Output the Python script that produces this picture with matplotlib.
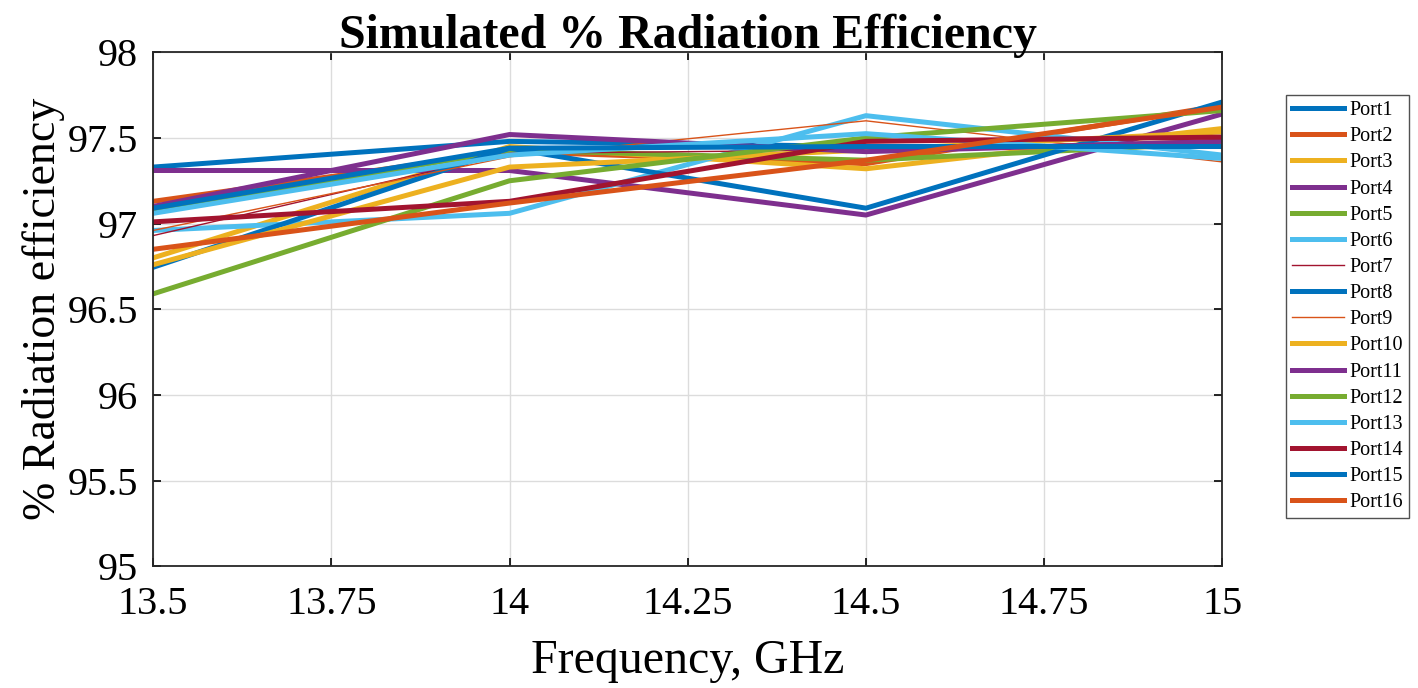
import numpy as np
import matplotlib
matplotlib.use("Agg")
import matplotlib.pyplot as plt

plt.rcParams['font.family'] = ['Liberation Serif', 'DejaVu Serif']

# frequency points (GHz)
freq = [13.5, 14.0, 14.5, 15.0]

# % radiation efficiency per port
port1 = [97.33, 97.48, 97.45, 97.45]
port2 = [97.13, 97.42, 97.35, 97.69]
port3 = [96.80, 97.45, 97.32, 97.555]
port4 = [97.31, 97.31, 97.05, 97.64]
port5 = [97.075, 97.43, 97.37, 97.47]
port6 = [96.96, 97.06, 97.63, 97.40]
port7 = [96.93, 97.41, 97.43, 97.49]
port8 = [96.745, 97.44, 97.09, 97.71]
port9 = [96.96, 97.39, 97.60, 97.36]
port10 = [96.76, 97.33, 97.43, 97.535]
port11 = [97.10, 97.52, 97.42, 97.48]
port12 = [96.59, 97.25, 97.50, 97.66]
port13 = [97.06, 97.40, 97.525, 97.38]
port14 = [97.01, 97.13, 97.48, 97.505]
port15 = [97.09, 97.44, 97.45, 97.45]
port16 = [96.85, 97.12, 97.37, 97.68]

ports = [port1, port2, port3, port4, port5, port6, port7, port8,
         port9, port10, port11, port12, port13, port14, port15, port16]
labels = ["Port%d" % (i + 1) for i in range(16)]
thin = {"Port7", "Port9"}

# MATLAB default colour order
colors = ["#0072BD", "#D95319", "#EDB120", "#7E2F8E", "#77AC30", "#4DBEEE", "#A2142F"]

xticks = [13.5, 13.75, 14, 14.25, 14.5, 14.75, 15]
xticklabels = ["13.5", "13.75", "14", "14.25", "14.5", "14.75", "15"]
yticks = [95, 95.5, 96, 96.5, 97, 97.5, 98]
yticklabels = ["95", "95.5", "96", "96.5", "97", "97.5", "98"]

fig = plt.figure(figsize=(14.18, 6.88), dpi=100)
ax = fig.add_axes([0.108, 0.177, 0.754, 0.747])

for i, (vals, lab) in enumerate(zip(ports, labels)):
    lw = 1.0 if lab in thin else 3.6
    ax.plot(freq, vals, color=colors[i % 7], lw=lw, label=lab)

ax.set_xlim(13.5, 15)
ax.set_ylim(95, 98)
ax.set_xticks(xticks)
ax.set_xticklabels(xticklabels)
ax.set_yticks(yticks)
ax.set_yticklabels(yticklabels)
ax.tick_params(direction="in", length=6, width=1.2, labelsize=29,
               top=True, right=True)
ax.tick_params(axis="x", pad=14)
ax.tick_params(axis="y", pad=11)
ax.grid(True, color="#dcdcdc", lw=1.0)
for s in ax.spines.values():
    s.set_linewidth(1.3)
    s.set_color("#262626")

ax.set_xlabel("Frequency, GHz", fontsize=34.5, labelpad=12)
ax.set_ylabel("% Radiation efficiency", fontsize=33, labelpad=2)
ax.set_title("Simulated % Radiation Efficiency", fontsize=34.5, fontweight="bold", pad=3)

leg = fig.legend(loc="upper left", bbox_to_anchor=(1286 / 1418, 1 - 95 / 688),
                 fontsize=14.5, frameon=True, fancybox=False, edgecolor="#262626",
                 handlelength=2.6, handletextpad=0.25, labelspacing=0.35,
                 borderpad=0.3, borderaxespad=0)
leg.get_frame().set_linewidth(1.0)

fig.savefig("out.png", dpi=100)
